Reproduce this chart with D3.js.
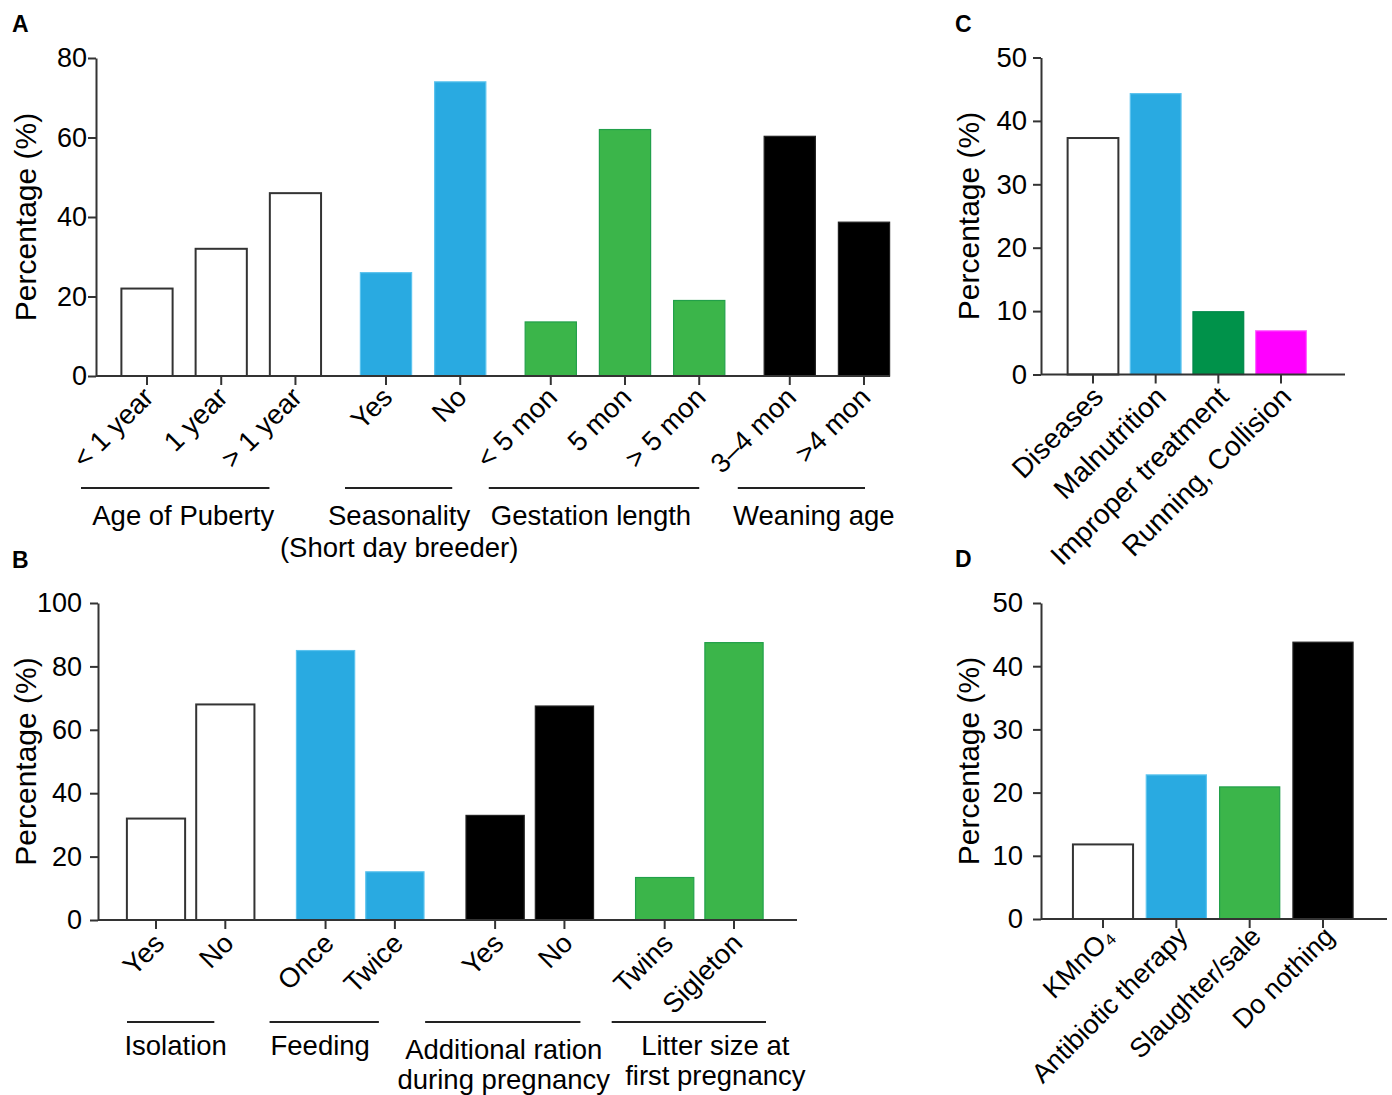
<!DOCTYPE html>
<html>
<head>
<meta charset="utf-8">
<script src="https://cdn.jsdelivr.net/npm/d3@7"></script>
<style>
  body{margin:0;background:#fff;}
  svg{display:block;font-family:"Liberation Sans", Arial, Helvetica, sans-serif;}
</style>
</head>
<body>
<svg id="fig" width="1392" height="1095"></svg>
<script>
// ---- data ----
// Panel A
const catsA = ["< 1 year","1 year","> 1 year","Yes","No","< 5 mon","5 mon","> 5 mon","3–4 mon",">4 mon"];
const valsA = [22, 32, 46, 26, 74, 13.6, 62, 19, 60.3, 38.7];
const groupA = [0,0,0,1,1,2,2,2,3,3];
const groupNamesA = [["Age of Puberty"],["Seasonality","(Short day breeder)"],["Gestation length"],["Weaning age"]];
const ticksA = [0,20,40,60,80];

// Panel B
const catsB = ["Yes","No","Once","Twice","Yes","No","Twins","Sigleton"];
const valsB = [32, 68, 85, 15.2, 33, 67.5, 13.4, 87.5];
const groupB = [0,0,1,1,2,2,3,3];
const groupNamesB = [["Isolation"],["Feeding"],["Additional ration","during pregnancy"],["Litter size at","first pregnancy"]];
const ticksB = [0,20,40,60,80,100];

// Panel C
const catsC = ["Diseases","Malnutrition","Improper treatment","Running, Collision"];
const valsC = [37.3, 44.3, 9.9, 6.9];
const ticksC = [0,10,20,30,40,50];

// Panel D
const catsD = ["KMnO₄","Antibiotic therapy","Slaughter/sale","Do nothing"];
const valsD = [11.8, 22.8, 20.9, 43.8];
const ticksD = [0,10,20,30,40,50];

// ---- colours ----
const WHITE = "#ffffff", BLUE = "#29aae1", GREEN = "#3bb54a", DKGREEN = "#00924a", MAGENTA = "#ff00ff", BLACK = "#000000";
const coloursA = [WHITE, BLUE, GREEN, BLACK];      // per group
const coloursB = [WHITE, BLUE, BLACK, GREEN];      // per group
const coloursC = [WHITE, BLUE, DKGREEN, MAGENTA];  // per bar
const coloursD = [WHITE, BLUE, GREEN, BLACK];      // per bar

const svg = d3.select("#fig");

function strokeFor(c){
  if(c === WHITE) return "#333";
  if(c === BLACK) return "#222";
  if(c === GREEN) return "#22a04a";
  if(c === DKGREEN) return "#00884a";
  if(c === BLUE) return "#5cc3ee";
  if(c === MAGENTA) return "#ff66ff";
  return c;
}

// generic panel
function drawPanel(opt){
  const g = svg.append("g");
  const groups = opt.groups || opt.cats.map((d,i)=>i);
  const slots = opt.cats.map((d,i)=> i + groups[i]*(opt.groupGap||0));
  const x = d3.scaleLinear().domain([0, d3.max(slots)]).range([opt.firstTick, opt.lastTick]);
  const step = x(1) - x(0);
  const y = d3.scaleLinear().domain([0, opt.ymax]).range([opt.y0, opt.y1]);
  const bw = step*opt.barFrac;

  // bars
  g.selectAll("rect.bar")
    .data(opt.vals)
    .join("rect")
    .attr("class","bar")
    .attr("x",(d,i)=> x(slots[i]) - bw/2)
    .attr("y",d=> y(d))
    .attr("width",bw)
    .attr("height",d=> y(0)-y(d))
    .attr("fill",(d,i)=> opt.colour(i))
    .attr("stroke",(d,i)=> strokeFor(opt.colour(i)))
    .attr("stroke-width",(d,i)=> opt.colour(i)===WHITE ? 2 : 1.2);

  // y axis
  const yAxis = d3.axisLeft(y).tickValues(opt.ticks).tickSize(8).tickPadding(opt.yPad).tickSizeOuter(0);
  const ga = g.append("g").attr("transform",`translate(${opt.x0},0)`).call(yAxis);
  ga.select(".domain").attr("stroke","#333").attr("stroke-width",2);
  ga.selectAll(".tick line").attr("stroke","#333").attr("stroke-width",2);
  ga.selectAll(".tick text").attr("font-size",opt.tickFont).attr("fill","#000")
    .attr("font-family","Liberation Sans, Arial, sans-serif");

  // x axis line + ticks
  const xa = g.append("g");
  xa.append("line").attr("x1",opt.x0).attr("x2",opt.xEnd).attr("y1",y(0)).attr("y2",y(0))
    .attr("stroke","#333").attr("stroke-width",2);
  xa.selectAll("line.xt").data(slots).join("line").attr("class","xt")
    .attr("x1",d=>x(d)).attr("x2",d=>x(d)).attr("y1",y(0)).attr("y2",y(0)+9)
    .attr("stroke","#333").attr("stroke-width",2);

  // category labels, rotated
  xa.selectAll("text.cat").data(opt.cats).join("text").attr("class","cat")
    .attr("transform",(d,i)=>`translate(${x(slots[i])+opt.labDx},${y(0)+opt.labDy}) rotate(-45)`)
    .attr("text-anchor","end")
    .attr("font-size",opt.labFont)
    .attr("fill","#000")
    .text(d=>d);

  // y title
  g.append("text")
    .attr("transform",`translate(${opt.titleX},${(opt.y0+opt.y1)/2}) rotate(-90)`)
    .attr("text-anchor","middle")
    .attr("dominant-baseline","central")
    .attr("font-size",opt.titleFont)
    .text("Percentage (%)");

  // group brackets
  if(opt.groupNames){
    opt.groupNames.forEach((names,gi)=>{
      const idx = groups.map((gg,i)=>gg===gi?i:-1).filter(i=>i>=0);
      const xs = x(slots[idx[0]]), xe = x(slots[idx[idx.length-1]]);
      const lay = opt.groupLayout[gi];
      g.append("line").attr("x1",xs+lay[0]).attr("x2",xe+lay[1])
        .attr("y1",opt.bracketY).attr("y2",opt.bracketY)
        .attr("stroke","#222").attr("stroke-width",2);
      names.forEach((t,k)=>{
        g.append("text")
          .attr("x",(xs+xe)/2+lay[2])
          .attr("y",opt.groupTextY + lay[3] + k*opt.groupLine)
          .attr("text-anchor","middle")
          .attr("dominant-baseline","central")
          .attr("font-size",opt.groupFont)
          .text(t);
      });
    });
  }

  // panel letter
  svg.append("text").attr("x",opt.letter[1]).attr("y",opt.letter[2])
    .attr("font-size",23).attr("font-weight","bold").text(opt.letter[0]);
}

// Panel A
drawPanel({
  cats:catsA, vals:valsA, groups:groupA, groupGap:0.22,
  colour:i=>coloursA[groupA[i]],
  firstTick:147, lastTick:864, x0:96, xEnd:890,
  y0:376, y1:58, ymax:80, ticks:ticksA, yPad:1,
  barFrac:0.69, tickFont:27, labFont:27.5, labDx:8, labDy:23,
  titleX:25, titleFont:30,
  groupNames:groupNamesA,
  groupLayout:[[-66,-26,-38,0],[-41,-8,-24,0],[-62,0,-34,0],[-52,1,-13,0]],
  bracketY:488, groupTextY:515, groupLine:32, groupFont:27.5,
  letter:["A",12,32]
});

// Panel B
drawPanel({
  cats:catsB, vals:valsB, groups:groupB, groupGap:0.446,
  colour:i=>coloursB[groupB[i]],
  firstTick:156, lastTick:734, x0:98, xEnd:797,
  y0:920, y1:603, ymax:100, ticks:ticksB, yPad:8,
  barFrac:0.84, tickFont:27, labFont:27.5, labDx:10, labDy:25,
  titleX:25, titleFont:30,
  groupNames:groupNamesB,
  groupLayout:[[-29,-11,-15,0],[-56,-16,-40,0],[-70,16,-26,4],[-53,32,16,0]],
  bracketY:1022, groupTextY:1045, groupLine:30, groupFont:27.5,
  letter:["B",12,568]
});

// Panel C
drawPanel({
  cats:catsC, vals:valsC,
  colour:i=>coloursC[i],
  firstTick:1093, lastTick:1281, x0:1041, xEnd:1345,
  y0:374.5, y1:57.5, ymax:50, ticks:ticksC, yPad:6,
  barFrac:0.81, tickFont:27.5, labFont:28, labDx:12, labDy:24,
  titleX:968, titleFont:30,
  letter:["C",955,32]
});

// Panel D
drawPanel({
  cats:catsD, vals:valsD,
  colour:i=>coloursD[i],
  firstTick:1103, lastTick:1323, x0:1041, xEnd:1387,
  y0:919, y1:603, ymax:50, ticks:ticksD, yPad:10,
  barFrac:0.82, tickFont:27.5, labFont:27, labDx:13, labDy:19,
  titleX:968, titleFont:30,
  letter:["D",955,567]
});
</script>
</body>
</html>
